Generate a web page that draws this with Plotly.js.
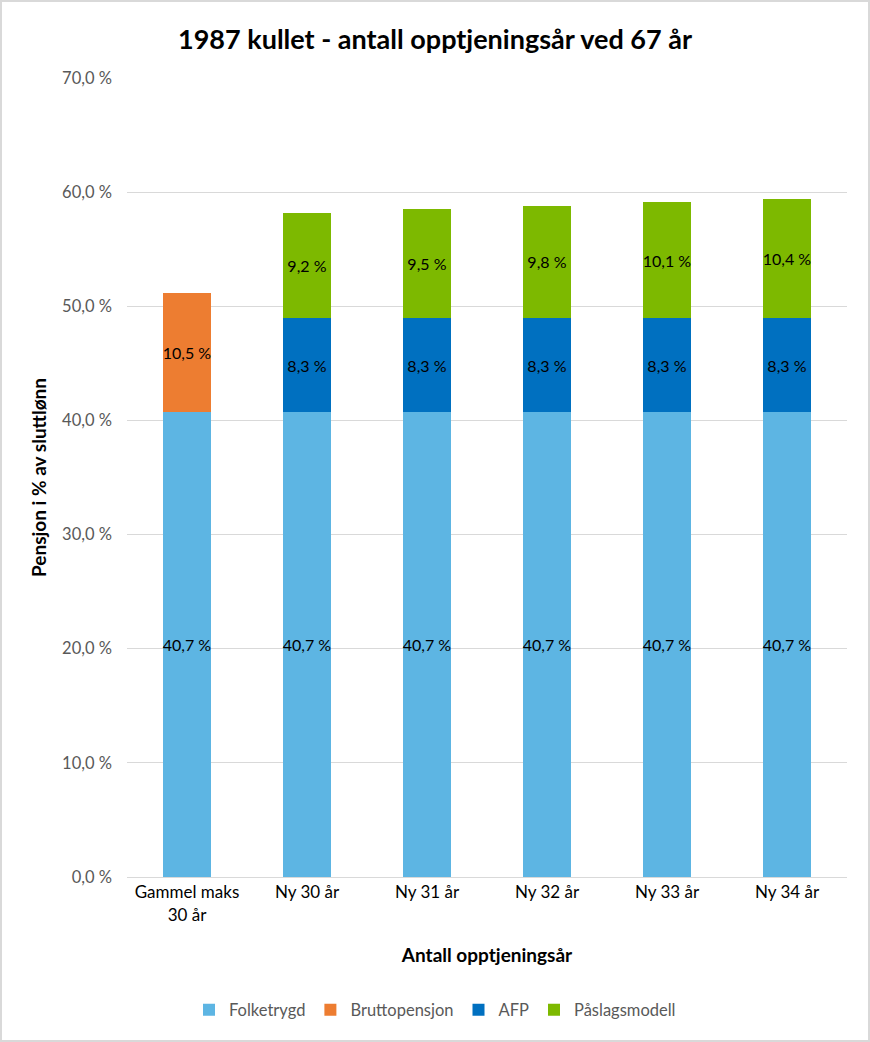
<!DOCTYPE html>
<html><head><meta charset="utf-8">
<script src="https://cdn.plot.ly/plotly-3.0.1.min.js"></script>
<style>
html,body{margin:0;padding:0;background:#fff;}
#chart{width:866px;height:1038px;border:2px solid #d9d9d9;}
</style></head>
<body><div id="chart"></div>
<script>
const categories = ["Gammel maks<br>30 år","Ny 30 år","Ny 31 år","Ny 32 år","Ny 33 år","Ny 34 år"];
const folketrygd = [40.7,40.7,40.7,40.7,40.7,40.7];
const bruttopensjon = [10.5,null,null,null,null,null];
const afp = [null,8.3,8.3,8.3,8.3,8.3];
const paslagsmodell = [null,9.2,9.5,9.8,10.1,10.4];
const yTicks = [0,10,20,30,40,50,60,70];

const FONT = "Lato, 'Liberation Sans', sans-serif";
function lab(arr){return arr.map(v => v==null ? "" : v.toFixed(1).replace(".", ",") + " %");}
function mk(name, vals, color){
  return {type:"bar", name:name, x:categories, y:vals, marker:{color:color},
    text:lab(vals), textposition:"inside", insidetextanchor:"middle", constraintext:"none", textangle:0,
    textfont:{family:FONT, size:16, color:"#000"}, hoverinfo:"y+name"};
}
const data = [
  mk("Folketrygd", folketrygd, "#5DB5E3"),
  mk("Bruttopensjon", bruttopensjon, "#ED7D31"),
  mk("AFP", afp, "#0070C0"),
  mk("Påslagsmodell", paslagsmodell, "#7DB900")
];
const layout = {
  width:866, height:1038,
  margin:{l:125, r:21, t:76, b:163},
  paper_bgcolor:"#fff", plot_bgcolor:"#fff",
  barmode:"stack", bargap:0.6,
  font:{family:FONT, color:"#000"},
  title:{text:"<b>1987 kullet - antall opptjeningsår ved 67 år</b>", font:{family:FONT, size:27, color:"#000"},
    x:0.5, xref:"container", y:1-38/1038, yref:"container", yanchor:"middle"},
  xaxis:{type:"category", tickfont:{size:17, color:"#000"}, showgrid:false, showline:true, linecolor:"#d9d9d9", linewidth:1,
    ticks:"", title:{text:"<b>Antall opptjeningsår</b>", font:{size:19, color:"#000"}, standoff:25}},
  yaxis:{range:[0,70], tickvals:yTicks, ticktext:yTicks.map(v => v.toFixed(1).replace(".", ",") + " %"),
    tickfont:{size:16.5, color:"#595959"}, gridcolor:"#d9d9d9", gridwidth:1, zeroline:false, ticks:"",
    ticklabelstandoff:14,
    title:{text:"<b>Pensjon i % av sluttlønn</b>", font:{size:19, color:"#000"}, standoff:10}},
  legend:{orientation:"h", xref:"container", yref:"container", x:0.5, xanchor:"center", y:(1038-1008)/1038, yanchor:"middle",
    font:{size:16.5, color:"#595959"}, traceorder:"normal", itemwidth:30},
  showlegend:true
};
Plotly.newPlot("chart", data, layout, {displayModeBar:false});
</script></body></html>
